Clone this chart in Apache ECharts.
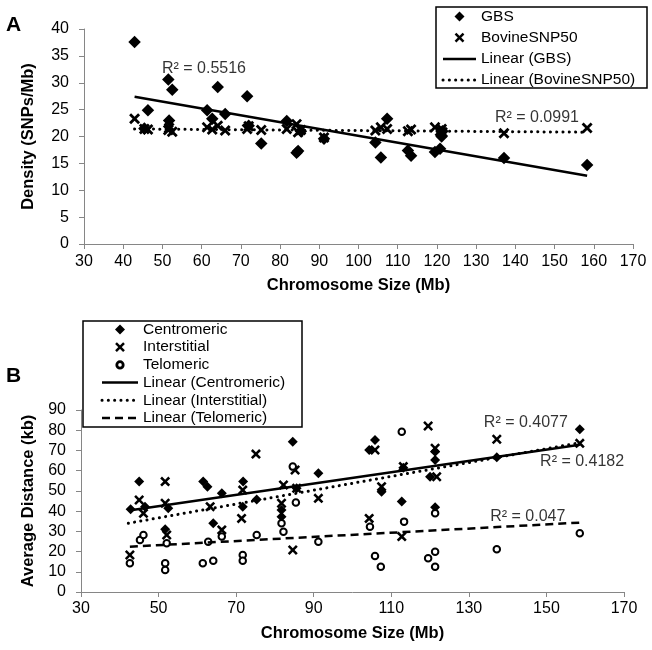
<!DOCTYPE html>
<html>
<head>
<meta charset="utf-8">
<script src="https://cdn.jsdelivr.net/npm/echarts@6/dist/echarts.min.js"></script>
<style>html,body{margin:0;padding:0;background:#fff}#c{width:652px;height:650px}</style>
</head>
<body>
<div id="c"></div>
<script>
// ---------- Panel A: SNP density vs chromosome size ----------
const gbsX = [42.9, 45.4, 46.3, 51.5, 51.7, 52.5, 61.4, 62.7, 64.1, 66.0, 71.6, 72.0, 75.2, 81.7, 84.2, 84.6, 85.3, 91.2, 104.3, 105.7, 107.3, 112.6, 113.4, 119.5, 120.8, 121.2, 121.4, 137.1, 158.3];
const gbsY = [37.6, 21.5, 24.9, 30.6, 23.0, 28.7, 24.9, 23.3, 29.2, 24.2, 27.5, 22.0, 18.7, 22.9, 17.0, 17.3, 21.0, 19.6, 18.9, 16.1, 23.3, 17.4, 16.4, 17.1, 17.7, 20.0, 21.0, 16.0, 14.7];
const snp50X = [42.9, 45.4, 46.3, 51.5, 51.7, 52.5, 61.4, 62.7, 64.1, 66.0, 71.6, 72.0, 75.2, 81.7, 84.2, 84.6, 85.3, 91.2, 104.3, 105.7, 107.3, 112.6, 113.4, 119.5, 120.8, 121.2, 121.4, 137.1, 158.3];
const snp50Y = [23.3, 21.4, 21.3, 21.2, 21.6, 20.9, 21.7, 21.3, 22.0, 21.1, 21.4, 21.9, 21.2, 21.4, 22.3, 20.8, 21.2, 19.8, 21.1, 21.7, 21.4, 21.0, 21.3, 21.7, 21.0, 21.4, 20.8, 20.6, 21.6];
const gbsTrendX = [42.9, 158.3];
const gbsTrendY = [27.4, 12.7];
const snp50TrendX = [42.9, 158.3];
const snp50TrendY = [21.4, 20.8];
const r2A = [["R² = 0.5516", 60.6, 32.7], ["R² = 0.0991", 145.5, 23.6]];
const legendA = [["GBS", "diamond"], ["BovineSNP50", "cross"], ["Linear (GBS)", "solid"], ["Linear (BovineSNP50)", "dotted"]];

// ---------- Panel B: average distance vs chromosome size ----------
const cenX = [42.8, 45.0, 46.5, 51.7, 52.5, 61.5, 62.6, 64.1, 66.3, 71.8, 71.7, 75.3, 81.7, 81.7, 84.6, 85.6, 91.2, 104.3, 105.8, 107.5, 112.7, 113.1, 120.0, 121.3, 121.3, 121.3, 137.2, 158.6];
const cenY = [40.9, 54.6, 42.2, 31.0, 41.4, 54.6, 52.1, 34.0, 48.8, 54.6, 42.2, 45.8, 40.5, 37.2, 74.3, 51.3, 58.7, 70.2, 75.2, 49.6, 44.7, 61.5, 57.0, 65.3, 69.4, 41.9, 66.6, 80.5];
const intX = [42.6, 45.0, 46.1, 51.7, 51.7, 52.1, 63.3, 66.3, 71.7, 71.4, 75.1, 82.2, 81.7, 84.6, 85.2, 85.6, 91.2, 104.3, 105.8, 107.5, 112.7, 113.1, 119.5, 121.3, 121.7, 137.2, 158.6];
const intY = [18.3, 45.5, 38.9, 54.6, 43.9, 28.2, 42.2, 30.7, 50.4, 36.4, 68.2, 52.9, 43.9, 20.8, 60.3, 51.3, 46.3, 36.4, 70.2, 52.1, 27.4, 62.0, 82.1, 71.1, 57.0, 75.5, 73.5];
const telX = [42.6, 45.2, 46.1, 51.7, 51.7, 52.1, 61.4, 64.1, 62.8, 66.3, 71.7, 71.7, 75.3, 81.7, 82.2, 84.6, 85.4, 91.2, 104.5, 105.8, 107.3, 112.7, 113.3, 119.5, 121.3, 121.3, 121.3, 137.2, 158.6];
const telY = [14.2, 25.7, 28.2, 14.2, 10.9, 24.1, 14.2, 15.5, 24.9, 27.4, 18.3, 15.5, 28.2, 34.0, 29.8, 62.0, 44.2, 24.9, 32.3, 17.8, 12.5, 79.3, 34.8, 16.7, 19.9, 12.5, 38.9, 21.1, 29.0];
const cenTrendX = [42.8, 158.6];
const cenTrendY = [40.4, 72.8];
const intTrendX = [42.2, 158.6];
const intTrendY = [34.0, 73.8];
const telTrendX = [42.6, 158.6];
const telTrendY = [22.4, 34.3];
const r2B = [["R² = 0.4077", 144.7, 83.6], ["R² = 0.4182", 159.2, 64.3], ["R² = 0.047", 145.2, 37.1]];
const legendB = [["Centromeric", "diamond"], ["Interstitial", "cross"], ["Telomeric", "circle"], ["Linear (Centromeric)", "solid"], ["Linear (Interstitial)", "dotted"], ["Linear (Telomeric)", "dashed"]];

const xTicksB = [30, 50, 70, 90, 110, 130, 150, 170];

const FONT = "'Liberation Sans', Arial, sans-serif";
const X_PATH = 'path://M0,1.8L1.8,0L5,3.2L8.2,0L10,1.8L6.8,5L10,8.2L8.2,10L5,6.8L1.8,10L0,8.2L3.2,5Z';
const zip = (xs, ys) => xs.map((x, i) => [x, ys[i]]);
const AXIS_GRAY = '#868686';
const DOT = [0.1, 6.2];
const DASH = [8, 5];

function baseAxis(extra) {
  return Object.assign({
    type: 'value',
    axisLine: { show: true, onZero: false, lineStyle: { color: AXIS_GRAY, width: 1 } },
    axisTick: { show: true, inside: false, length: 5, lineStyle: { color: AXIS_GRAY } },
    axisLabel: { color: '#000', fontSize: 16, fontFamily: FONT },
    splitLine: { show: false },
    nameLocation: 'middle',
    nameTextStyle: { color: '#000', fontSize: 16.5, fontWeight: 'bold', fontFamily: FONT }
  }, extra);
}

function labelSeries(list, xi, yi) {
  return {
    type: 'scatter', xAxisIndex: xi, yAxisIndex: yi, silent: true,
    symbolSize: 0, z: 10,
    data: list.map(d => [d[1], d[2], d[0]]),
    label: { show: true, position: 'inside', formatter: p => p.data[2], color: '#000', fontSize: 16, fontFamily: FONT }
  };
}

// legend drawn as a boxed block: box geometry, row spacing, icon column
function buildLegend(items, box, firstRow, rowGap, lineX0, lineX1, textX) {
  const els = [{ type: 'rect', shape: { x: box[0], y: box[1], width: box[2], height: box[3] },
    style: { fill: '#fff', stroke: '#000', lineWidth: 1.5 }, z: 20 }];
  const cx = (lineX0 + lineX1) / 2;
  items.forEach((it, i) => {
    const cy = firstRow + i * rowGap;
    const kind = it[1];
    if (kind === 'diamond') {
      els.push({ type: 'polygon', shape: { points: [[cx, cy - 5], [cx + 5, cy], [cx, cy + 5], [cx - 5, cy]] },
        style: { fill: '#000' }, z: 21 });
    } else if (kind === 'cross') {
      els.push({ type: 'line', shape: { x1: cx - 4, y1: cy - 4, x2: cx + 4, y2: cy + 4 }, style: { stroke: '#000', lineWidth: 2.4 }, z: 21 });
      els.push({ type: 'line', shape: { x1: cx + 4, y1: cy - 4, x2: cx - 4, y2: cy + 4 }, style: { stroke: '#000', lineWidth: 2.4 }, z: 21 });
    } else if (kind === 'circle') {
      els.push({ type: 'circle', shape: { cx: cx, cy: cy, r: 3.2 }, style: { fill: '#fff', stroke: '#000', lineWidth: 2.8 }, z: 21 });
    } else {
      const st = { stroke: '#000', lineWidth: kind === 'dotted' ? 3 : 2.5 };
      if (kind === 'dotted') { st.lineDash = DOT; st.lineCap = 'round'; }
      if (kind === 'dashed') { st.lineDash = DASH; }
      els.push({ type: 'line', shape: { x1: lineX0, y1: cy, x2: lineX1, y2: cy }, style: st, z: 21 });
    }
    els.push({ type: 'text', x: textX, y: cy, style: { text: it[0], fill: '#000', font: "15.5px 'Liberation Sans', Arial, sans-serif", verticalAlign: 'middle', align: 'left' }, z: 21 });
  });
  return els;
}

const chart = echarts.init(document.getElementById('c'), null, { renderer: 'canvas' });
chart.setOption({
  animation: false,
  backgroundColor: '#fff',
  textStyle: { fontFamily: FONT },
  grid: [
    { left: 84, right: 19, top: 29, height: 215 },
    { left: 81, right: 28, top: 410, height: 182 }
  ],
  xAxis: [
    baseAxis({ gridIndex: 0, min: 30, max: 170, interval: 10, name: 'Chromosome Size (Mb)', nameGap: 33,
      axisLabel: { color: '#000', fontSize: 16, fontFamily: FONT, margin: 10 } }),
    baseAxis({ gridIndex: 1, min: 30, max: 170, name: 'Chromosome Size (Mb)', nameGap: 33,
      axisLabel: { color: '#000', fontSize: 16, fontFamily: FONT, margin: 9, customValues: xTicksB },
      axisTick: { show: true, inside: false, length: 5, lineStyle: { color: AXIS_GRAY }, customValues: xTicksB } })
  ],
  yAxis: [
    baseAxis({ gridIndex: 0, min: 0, max: 40, interval: 5, name: 'Density (SNPs/Mb)', nameGap: 47,
      axisLabel: { color: '#000', fontSize: 16, fontFamily: FONT, margin: 15 } }),
    baseAxis({ gridIndex: 1, min: 0, max: 90, interval: 10, name: 'Average Distance (kb)', nameGap: 42,
      axisLabel: { color: '#000', fontSize: 16, fontFamily: FONT, margin: 15 } })
  ],
  graphic: [
    { type: 'text', left: 6, top: 15, style: { text: 'A', font: "bold 21px 'Liberation Sans', Arial, sans-serif", fill: '#000' } },
    { type: 'text', left: 6, top: 366, style: { text: 'B', font: "bold 21px 'Liberation Sans', Arial, sans-serif", fill: '#000' } }
  ].concat(
    buildLegend(legendA, [436, 7, 211, 81], 16.5, 21.2, 443, 476, 481),
    buildLegend(legendB, [83, 321, 219, 106], 329.5, 17.7, 102, 138, 143)
  ),
  series: [
    // Panel A
    { name: 'GBS', type: 'scatter', xAxisIndex: 0, yAxisIndex: 0, symbol: 'diamond', symbolSize: 12.5,
      itemStyle: { color: '#000', opacity: 1 }, data: zip(gbsX, gbsY) },
    { name: 'BovineSNP50', type: 'scatter', xAxisIndex: 0, yAxisIndex: 0, symbol: X_PATH, symbolSize: 11,
      itemStyle: { color: '#000', opacity: 1 }, data: zip(snp50X, snp50Y) },
    { name: 'Linear (GBS)', type: 'line', xAxisIndex: 0, yAxisIndex: 0, symbol: 'none', silent: true,
      lineStyle: { color: '#000', width: 2.5, type: 'solid' }, itemStyle: { color: '#000' }, data: zip(gbsTrendX, gbsTrendY) },
    { name: 'Linear (BovineSNP50)', type: 'line', xAxisIndex: 0, yAxisIndex: 0, symbol: 'none', silent: true,
      lineStyle: { color: '#000', width: 3, type: DOT, cap: 'round' }, itemStyle: { color: '#000' }, data: zip(snp50TrendX, snp50TrendY) },
    labelSeries(r2A, 0, 0),
    // Panel B
    { name: 'Centromeric', type: 'scatter', xAxisIndex: 1, yAxisIndex: 1, symbol: 'diamond', symbolSize: 10,
      itemStyle: { color: '#000', opacity: 1 }, data: zip(cenX, cenY) },
    { name: 'Interstitial', type: 'scatter', xAxisIndex: 1, yAxisIndex: 1, symbol: X_PATH, symbolSize: 10,
      itemStyle: { color: '#000', opacity: 1 }, data: zip(intX, intY) },
    { name: 'Telomeric', type: 'scatter', xAxisIndex: 1, yAxisIndex: 1, symbol: 'emptyCircle', symbolSize: 6.5,
      itemStyle: { color: '#000', borderColor: '#000', borderWidth: 3, opacity: 1 }, data: zip(telX, telY) },
    { name: 'Linear (Centromeric)', type: 'line', xAxisIndex: 1, yAxisIndex: 1, symbol: 'none', silent: true,
      lineStyle: { color: '#000', width: 2.5, type: 'solid' }, itemStyle: { color: '#000' }, data: zip(cenTrendX, cenTrendY) },
    { name: 'Linear (Interstitial)', type: 'line', xAxisIndex: 1, yAxisIndex: 1, symbol: 'none', silent: true,
      lineStyle: { color: '#000', width: 3, type: DOT, cap: 'round' }, itemStyle: { color: '#000' }, data: zip(intTrendX, intTrendY) },
    { name: 'Linear (Telomeric)', type: 'line', xAxisIndex: 1, yAxisIndex: 1, symbol: 'none', silent: true,
      lineStyle: { color: '#000', width: 2.5, type: DASH }, itemStyle: { color: '#000' }, data: zip(telTrendX, telTrendY) },
    labelSeries(r2B, 1, 1)
  ]
});
</script>
</body>
</html>
